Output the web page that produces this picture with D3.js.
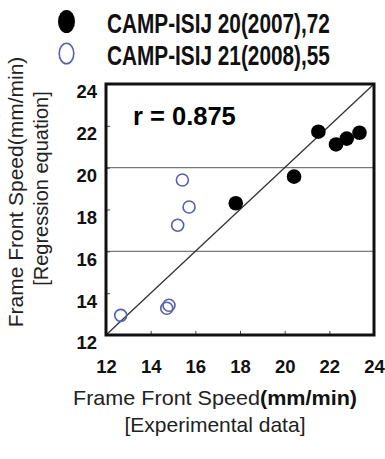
<!DOCTYPE html>
<html>
<head>
<meta charset="utf-8">
<script src="https://cdn.jsdelivr.net/npm/d3@7"></script>
<style>
  body { margin: 0; background: #fff; }
  svg { display: block; font-family: "Liberation Sans", Arial, sans-serif; }
</style>
</head>
<body>
<div class="chart"></div>
<script>
// series
const seriesNames = ['CAMP-ISIJ 20(2007),72', 'CAMP-ISIJ 21(2008),55'];
const camp20X = [21.51, 22.30, 22.78, 23.35, 20.42, 17.81];
const camp20Y = [21.72, 21.11, 21.39, 21.67, 19.57, 18.30];
const camp21X = [15.42, 15.72, 15.21, 14.82, 14.72, 12.66];
const camp21Y = [19.41, 18.12, 17.25, 13.42, 13.28, 12.94];
const xTicks = [12, 14, 16, 18, 20, 22, 24];
const yTicks = [12, 14, 16, 18, 20, 22, 24];
const gridValues = [16, 20];
const rLabel = 'r = 0.875';

const width = 385, height = 459;
const margin = {left: 106, right: 11, top: 84, bottom: 124};

const svg = d3.select('.chart').append('svg')
    .attr('width', width).attr('height', height)
    .attr('viewBox', [0, 0, width, height]);

const x = d3.scaleLinear().domain([12, 24]).range([margin.left, width - margin.right]);
const y = d3.scaleLinear().domain([12, 24]).range([height - margin.bottom, margin.top]);

// horizontal grid lines
svg.append('g').selectAll('line')
    .data(gridValues)
    .join('line')
    .attr('x1', x(12)).attr('x2', x(24))
    .attr('y1', d => y(d)).attr('y2', d => y(d))
    .attr('stroke', '#777').attr('stroke-width', 1.2);

// y = x reference line
svg.append('line')
    .attr('x1', x(12)).attr('y1', y(12))
    .attr('x2', x(24)).attr('y2', y(24))
    .attr('stroke', '#333').attr('stroke-width', 1.3);

// axes (inward ticks)
const yAxis = svg.append('g')
    .attr('transform', `translate(${margin.left},0)`)
    .call(d3.axisLeft(y).tickValues(yTicks).tickSize(-4).tickPadding(9));
yAxis.select('.domain').remove();
yAxis.selectAll('line').attr('stroke', '#444');
yAxis.selectAll('text')
    .attr('y', 8)
    .style('font-size', '18.5px').style('font-weight', 'bold')
    .attr('fill', '#111');

const xAxis = svg.append('g')
    .attr('transform', `translate(0,${height - margin.bottom})`)
    .call(d3.axisBottom(x).tickValues(xTicks).tickSize(-4).tickPadding(25));
xAxis.select('.domain').remove();
xAxis.selectAll('line').attr('stroke', '#444');
xAxis.selectAll('text')
    .style('font-size', '18.5px').style('font-weight', 'bold')
    .attr('fill', '#111');

// frame
svg.append('rect')
    .attr('x', x(12)).attr('y', y(24))
    .attr('width', x(24) - x(12)).attr('height', y(12) - y(24))
    .attr('fill', 'none').attr('stroke', '#111').attr('stroke-width', 3);

// points
const camp21 = camp21X.map((v, i) => ({x: v, y: camp21Y[i]}));
const camp20 = camp20X.map((v, i) => ({x: v, y: camp20Y[i]}));

svg.append('g').selectAll('circle')
    .data(camp21)
    .join('circle')
    .attr('cx', d => x(d.x)).attr('cy', d => y(d.y))
    .attr('r', 6)
    .attr('fill', 'none').attr('stroke', '#5560b0').attr('stroke-width', 1.6);

svg.append('g').selectAll('circle')
    .data(camp20)
    .join('circle')
    .attr('cx', d => x(d.x)).attr('cy', d => y(d.y))
    .attr('r', 7.3)
    .attr('fill', '#000');

svg.append('text')
    .attr('x', 133).attr('y', 125)
    .style('font-size', '25.5px').style('font-weight', 'bold')
    .text(rLabel);

// legend
const legend = svg.append('g');
legend.append('ellipse')
    .attr('cx', 66.5).attr('cy', 21.5).attr('rx', 8.5).attr('ry', 11.5)
    .attr('fill', '#000');
legend.append('ellipse')
    .attr('cx', 66.5).attr('cy', 53.5).attr('rx', 7.3).attr('ry', 10.3)
    .attr('fill', 'none').attr('stroke', '#5560b0').attr('stroke-width', 1.6);
legend.selectAll('text')
    .data(seriesNames)
    .join('text')
    .attr('transform', (d, i) => `translate(107,${33 + i * 32}) scale(0.77,1)`)
    .style('font-size', '27px').style('font-weight', 'bold')
    .attr('fill', '#111')
    .text(d => d);

// axis titles
const xt = svg.append('text')
    .attr('x', 73).attr('y', 405)
    .attr('textLength', 284).attr('lengthAdjust', 'spacingAndGlyphs')
    .style('font-size', '21px').attr('fill', '#222');
xt.append('tspan').text('Frame Front Speed');
xt.append('tspan').style('font-weight', 'bold').attr('fill', '#111').text('(mm/min)');

svg.append('text')
    .attr('x', 215).attr('y', 432)
    .attr('text-anchor', 'middle')
    .style('font-size', '21px').attr('fill', '#222')
    .text('[Experimental data]');

const yt = svg.append('g').attr('transform', 'rotate(-90)');
yt.append('text')
    .attr('x', -192).attr('y', 23)
    .attr('text-anchor', 'middle')
    .style('font-size', '21px').attr('fill', '#222')
    .text('Frame Front Speed(mm/min)');
yt.append('text')
    .attr('x', -188.5).attr('y', 48)
    .attr('text-anchor', 'middle')
    .style('font-size', '20px').attr('fill', '#222')
    .text('[Regression equation]');
</script>
</body>
</html>
